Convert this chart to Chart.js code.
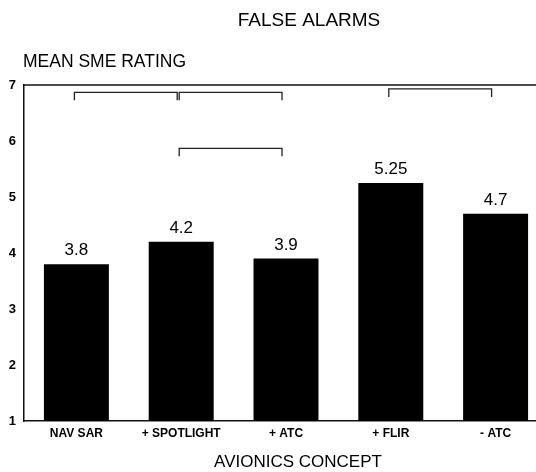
<!DOCTYPE html>
<html>
<head>
<meta charset="utf-8">
<script src="https://cdn.jsdelivr.net/npm/chart.js@4"></script>
<style>
  html, body { margin: 0; padding: 0; background: #fff; overflow: hidden; }
  #wrap { width: 536px; height: 472px; overflow: hidden; }
</style>
</head>
<body>
<div id="wrap"><canvas id="chart" width="548" height="472"></canvas></div>
<script>
const CATEGORIES = ["NAV SAR", "+ SPOTLIGHT", "+ ATC", "+ FLIR", "- ATC"];
const RATINGS = [3.8, 4.2, 3.9, 5.25, 4.7];
const Y_TICKS = [1, 2, 3, 4, 5, 6, 7];

// significance brackets: from category index, to category index, level on the rating scale
const BRACKET_FROM = [0, 1, 1, 3];
const BRACKET_TO = [1, 2, 2, 4];
const BRACKET_LEVEL = [6.87, 6.87, 5.87, 6.93];

const FONT = '"Liberation Sans", Arial, Helvetica, sans-serif';

const annotate = {
  id: 'annotate',
  afterDraw(chart) {
    const ctx = chart.ctx;
    const x = chart.scales.x;
    const y = chart.scales.y;
    const area = chart.chartArea;
    ctx.save();

    // top frame line
    ctx.strokeStyle = '#111';
    ctx.lineWidth = 1.5;
    ctx.beginPath();
    ctx.moveTo(area.left, area.top);
    ctx.lineTo(area.right, area.top);
    ctx.stroke();

    // value labels above bars
    ctx.fillStyle = '#000';
    ctx.font = '17px ' + FONT;
    ctx.textAlign = 'center';
    ctx.textBaseline = 'bottom';
    chart.getDatasetMeta(0).data.forEach((bar, i) => {
      ctx.fillText(String(RATINGS[i]), bar.x, bar.y - 5);
    });

    // brackets
    ctx.strokeStyle = '#222';
    ctx.lineWidth = 1.3;
    BRACKET_FROM.forEach((from, i) => {
      const x1 = x.getPixelForValue(from) - 2;
      const x2 = x.getPixelForValue(BRACKET_TO[i]) - 4;
      const yy = y.getPixelForValue(BRACKET_LEVEL[i]);
      ctx.beginPath();
      ctx.moveTo(x1, yy + 8);
      ctx.lineTo(x1, yy);
      ctx.lineTo(x2, yy);
      ctx.lineTo(x2, yy + 8);
      ctx.stroke();
    });

    // titles
    ctx.fillStyle = '#000';
    ctx.textBaseline = 'middle';
    ctx.font = '19px ' + FONT;
    ctx.textAlign = 'center';
    ctx.fillText('FALSE ALARMS', 309, 21);
    ctx.font = '17.5px ' + FONT;
    ctx.textAlign = 'left';
    ctx.fillText('MEAN SME RATING', 23, 62);
    ctx.font = '17px ' + FONT;
    ctx.textAlign = 'center';
    ctx.fillText('AVIONICS CONCEPT', 298, 462);
    ctx.restore();
  }
};

new Chart(document.getElementById('chart').getContext('2d'), {
  type: 'bar',
  data: {
    labels: CATEGORIES,
    datasets: [{
      data: RATINGS,
      backgroundColor: '#000',
      borderWidth: 0,
      barPercentage: 0.62,
      categoryPercentage: 1
    }]
  },
  options: {
    responsive: false,
    animation: false,
    layout: { padding: { top: 85, right: 0, bottom: 0, left: 0 } },
    plugins: {
      legend: { display: false },
      tooltip: { enabled: false },
      title: { display: false }
    },
    scales: {
      x: {
        grid: { display: false, drawTicks: false },
        border: { display: true, color: '#111', width: 1.5 },
        ticks: {
          color: '#000',
          padding: 5,
          maxRotation: 0,
          autoSkip: false,
          font: { family: FONT, size: 12, weight: 'bold' }
        },
        afterFit(scale) { scale.height = 51; }
      },
      y: {
        min: 1,
        max: 7,
        afterBuildTicks(scale) { scale.ticks = Y_TICKS.map(v => ({ value: v })); },
        grid: { display: false, drawTicks: false },
        border: { display: true, color: '#111', width: 1.5 },
        ticks: {
          color: '#000',
          padding: 8,
          font: { family: FONT, size: 13, weight: 'bold' }
        },
        afterFit(scale) { scale.width = 24; }
      }
    }
  },
  plugins: [annotate]
});
</script>
</body>
</html>
